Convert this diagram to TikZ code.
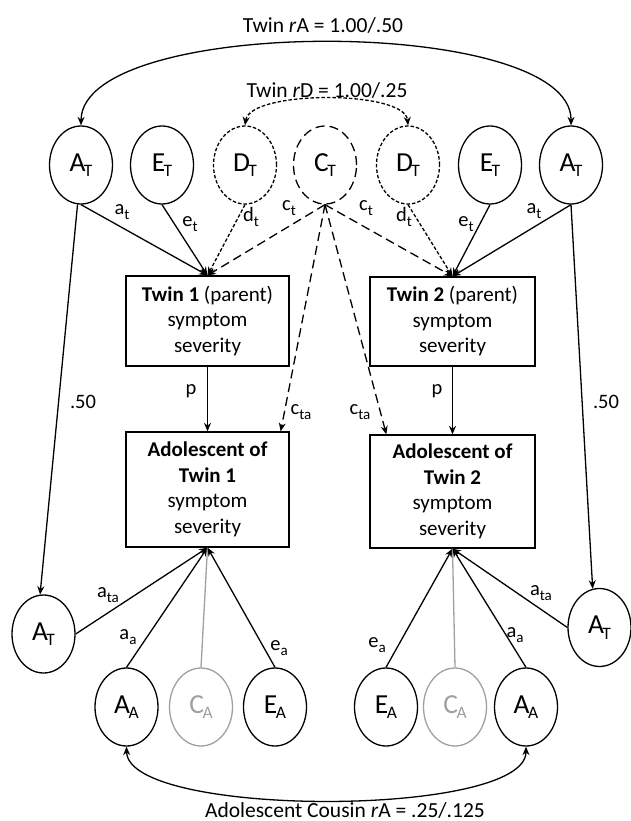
\documentclass[tikz,border=0pt]{standalone}
\usepackage{fontspec}
\setmainfont{Carlito}
\usetikzlibrary{shapes.geometric,arrows.meta,calc}
\definecolor{grayc}{HTML}{A0A0A0}
\newcommand\ev[2]{\fontsize{27.5}{27.5}\selectfont #1\kern-1.5pt\raisebox{-5.5pt}{\fontsize{17.5}{17.5}\selectfont #2}}
\newcommand\el[2]{#1\raisebox{-4.5pt}{\fontsize{15}{15}\selectfont #2}}
\begin{document}
\begin{tikzpicture}[x=1pt,y=-1pt,
  lat/.style={ellipse,draw,line width=1.3pt,minimum width=63pt,minimum height=78pt,inner sep=0pt},
  fined/.style={dash pattern=on 3.5pt off 2pt},
  longd/.style={dash pattern=on 9pt off 5pt},
  tipa/.tip={Stealth[length=8.5pt,width=7pt]},
  conn/.style={line width=1.3pt,-tipa},
  dconn/.style={line width=1.3pt,tipa-tipa},
  gline/.style={line width=1.3pt,draw=grayc},
  gnode/.style={lat,draw=grayc,text=grayc},
  box/.style={draw,line width=1.3pt,align=center,font=\fontsize{21}{25.5}\selectfont,inner sep=0pt},
  lbl/.style={font=\fontsize{20.5}{20.5}\selectfont,inner sep=0pt},
  big/.style={font=\fontsize{21.5}{21.5}\selectfont,inner sep=0pt}
]
\useasboundingbox (0,0) rectangle (630,821);

% top latent variables
\node[lat] (AT1) at (81,165) {\ev{A}{T}};
\node[lat] (ET1) at (162,165) {\ev{E}{T}};
\node[lat,fined] (DT1) at (245,165) {\ev{D}{T}};
\node[lat,longd] (CT) at (325,165) {\ev{C}{T}};
\node[lat,fined] (DT2) at (408,165) {\ev{D}{T}};
\node[lat] (ET2) at (490,165) {\ev{E}{T}};
\node[lat] (AT2) at (571,165) {\ev{A}{T}};

% boxes
\node[box,minimum width=163pt,minimum height=90pt] (T1) at (207.5,321)
  {\textbf{Twin 1} (parent)\\symptom\\severity};
\node[box,minimum width=165pt,minimum height=89pt] (T2) at (452.5,321.5)
  {\textbf{Twin 2} (parent)\\symptom\\severity};
\node[box,minimum width=163pt,minimum height=115pt] (Ad1) at (207.5,489.5)
  {\textbf{Adolescent of}\\\textbf{Twin 1}\\symptom\\severity};
\node[box,minimum width=165pt,minimum height=113pt] (Ad2) at (452.5,491.5)
  {\textbf{Adolescent of}\\\textbf{Twin 2}\\symptom\\severity};

% lower latent variables
\node[lat] (LAT1) at (43.5,634) {\ev{A}{T}};
\node[lat] (LAT2) at (599.5,627.5) {\ev{A}{T}};
\node[lat] (AA1) at (126.5,707) {\ev{A}{A}};
\node[gnode] (CA1) at (201,707) {\ev{C}{A}};
\node[lat] (EA1) at (275,707) {\ev{E}{A}};
\node[lat] (EA2) at (386,707) {\ev{E}{A}};
\node[gnode] (CA2) at (455,707) {\ev{C}{A}};
\node[lat] (AA2) at (526,707) {\ev{A}{A}};

% correlations
\draw[dconn] (AT1.north) .. controls (82,15) and (572,15) .. (AT2.north);
\draw[dconn,fined] (DT1.north) .. controls (250,90) and (405,90) .. (DT2.north);
\draw[dconn] (AA1.south) .. controls (128,818) and (526,818) .. (AA2.south);

% paths into twin boxes
\draw[conn] (AT1.south) -- (T1.north);
\draw[conn] (ET1.south) -- (T1.north);
\draw[conn,fined] (DT1.south) -- (T1.north);
\draw[conn,longd] (CT.south) -- (T1.north);
\draw[conn,longd] (CT.south) -- (T2.north);
\draw[conn,fined] (DT2.south) -- (T2.north);
\draw[conn] (ET2.south) -- (T2.north);
\draw[conn] (AT2.south) -- (T2.north);

% c_ta paths
\coordinate (ad1in) at ($(Ad1.north east)+(-9,0)$);
\coordinate (ad2in) at ($(Ad2.north west)+(17,0)$);
\draw[conn,longd] (CT.south) -- (ad1in);
\draw[conn,longd] (CT.south) -- (ad2in);

% p paths
\draw[conn] (T1.south) -- (Ad1.north);
\draw[conn] (T2.south) -- (Ad2.north);

% .50 paths
\draw[conn] (AT1.265) -- (LAT1.95);
\draw[conn] (AT2.south) -- (LAT2.100);

% paths into adolescent boxes
\draw[conn] (LAT1.east) -- (Ad1.south);
\draw[conn] (AA1.north) -- (Ad1.south);
\draw[gline] (CA1.north) -- (Ad1.south);
\draw[conn] (EA1.north) -- (Ad1.south);
\draw[conn] (EA2.north) -- (Ad2.south);
\draw[gline] (CA2.north) -- (Ad2.south);
\draw[conn] (AA2.north) -- (Ad2.south);
\draw[conn] (LAT2.west) -- (Ad2.south);

% labels
\node[big] (lrA) at (323,25) {Twin \textit{r}A = 1.00/.50};
\node[big] (lrD) at (327,90) {Twin \textit{r}D = 1.00/.25};
\node[big] (lcous) at (345,810) {Adolescent Cousin \textit{r}A = .25/.125};

\node[lbl] (lat1) at (122,212) {\el{a}{t}};
\node[lbl] (let1) at (190,224) {\el{e}{t}};
\node[lbl] (ldt1) at (251,217) {\el{d}{t}};
\node[lbl] (lct1) at (289,208) {\el{c}{t}};
\node[lbl] (lct2) at (366,208) {\el{c}{t}};
\node[lbl] (ldt2) at (404,217) {\el{d}{t}};
\node[lbl] (let2) at (466,224) {\el{e}{t}};
\node[lbl] (lat2) at (534,211) {\el{a}{t}};

\node[lbl] (l50a) at (83,402) {.50};
\node[lbl] (l50b) at (606,402) {.50};
\node[lbl] (lp1) at (191,391) {p};
\node[lbl] (lp2) at (437,391) {p};
\node[lbl] (lcta1) at (301,412) {\el{c}{ta}};
\node[lbl] (lcta2) at (360,412) {\el{c}{ta}};

\node[lbl] (lata1) at (108,595) {\el{a}{ta}};
\node[lbl] (laa1) at (128,637) {\el{a}{a}};
\node[lbl] (lea1) at (279,648) {\el{e}{a}};
\node[lbl] (lea2) at (377,645) {\el{e}{a}};
\node[lbl] (laa2) at (515,635) {\el{a}{a}};
\node[lbl] (lata2) at (541,593) {\el{a}{ta}};
\end{tikzpicture}
\end{document}
